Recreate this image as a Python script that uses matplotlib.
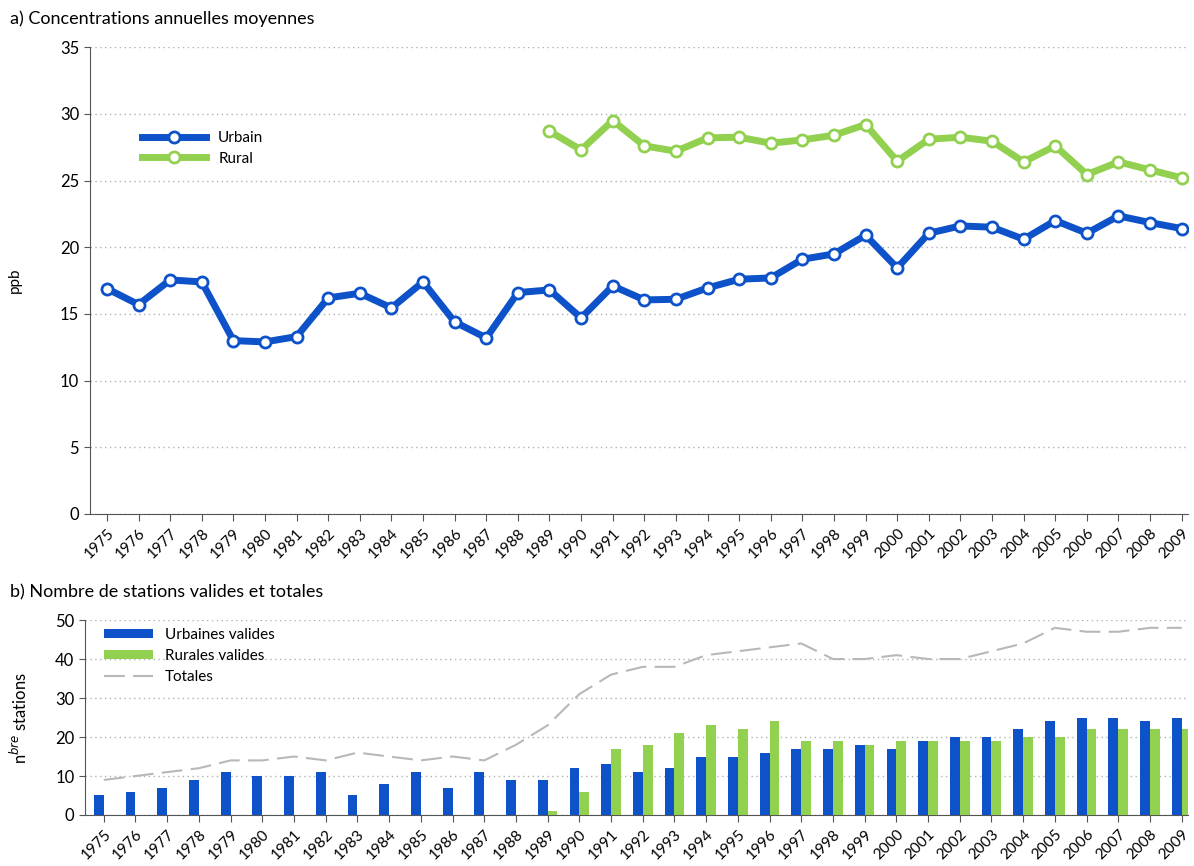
import numpy as np
import matplotlib
matplotlib.use("Agg")
import matplotlib.pyplot as plt

plt.rcParams['font.family'] = ['Lato', 'DejaVu Sans']

# années et concentrations annuelles moyennes (ppb)
annees = list(range(1975, 2010))
urbain = [16.9, 15.7, 17.55, 17.4, 13.0, 12.9, 13.3, 16.2, 16.55, 15.45, 17.4, 14.4,
          13.2, 16.6, 16.8, 14.7, 17.1, 16.05, 16.1, 16.95, 17.6, 17.7, 19.1, 19.5,
          20.9, 18.45, 21.05, 21.6, 21.5, 20.6, 22.0, 21.05, 22.35, 21.85, 21.4]
rural = [np.nan] * 14 + [28.7, 27.3, 29.5, 27.6, 27.2, 28.2, 28.25, 27.8, 28.05, 28.4,
                         29.2, 26.45, 28.1, 28.25, 27.95, 26.4, 27.6, 25.45, 26.4, 25.8, 25.2]

# nombre de stations
urb_valides = [5, 6, 7, 9, 11, 10, 10, 11, 5, 8, 11, 7, 11, 9, 9, 12, 13, 11, 12, 15,
               15, 16, 17, 17, 18, 17, 19, 20, 20, 22, 24, 25, 25, 24, 25]
rur_valides = [0] * 14 + [1, 6, 17, 18, 21, 23, 22, 24, 19, 19, 18, 19, 19, 19, 19, 20,
                          20, 22, 22, 22, 22]
totales = [9, 10, 11, 12, 14, 14, 15, 14, 16, 15, 14, 15, 14, 18, 23, 31, 36, 38, 38, 41,
           42, 43, 44, 40, 40, 41, 40, 40, 42, 44, 48, 47, 47, 48, 48]

bleu = '#0d52c8'
vert = '#92d050'
x = np.arange(len(annees))

fig = plt.figure(figsize=(11.94, 8.66), dpi=100)

# --- a) concentrations
ax1 = fig.add_axes([0.075, 0.4065, 0.92, 0.539])
ax1.plot(x, urbain, color=bleu, lw=5, marker='o', ms=8, mfc='white', mec=bleu,
         mew=2, label='Urbain', zorder=3)
ax1.plot(x, rural, color=vert, lw=5, marker='o', ms=8, mfc='white', mec=vert,
         mew=2, label='Rural', zorder=3)
ax1.set_ylim(0, 35)
ax1.set_yticks(range(0, 36, 5))
ax1.set_xlim(-0.55, 34.2)
ax1.set_ylabel('ppb', fontsize=11)
ax1.yaxis.set_label_coords(-0.062, 0.5)
ax1.legend(loc='upper left', bbox_to_anchor=(0.035, 0.85), frameon=False,
           fontsize=11, handlelength=4.2, labelspacing=0.45)
fig.text(0.008, 0.978, 'a) Concentrations annuelles moyennes', fontsize=13, va='center')

# --- b) nombre de stations
ax2 = fig.add_axes([0.071, 0.0589, 0.924, 0.2251])
w = 0.31
b1 = ax2.bar(x - w / 2, urb_valides, width=w, color=bleu, label='Urbaines valides', zorder=3)
b2 = ax2.bar(x + w / 2, rur_valides, width=w, color=vert, label='Rurales valides', zorder=3)
l3, = ax2.plot(x, totales, color='#b8b8b8', lw=1.5, dashes=(10, 4), label='Totales', zorder=2)
ax2.set_ylim(0, 50)
ax2.set_yticks(range(0, 51, 10))
ax2.set_xlim(-0.6, 34.2)
ax2.set_ylabel('n$^{bre}$ stations', fontsize=12)
ax2.yaxis.set_label_coords(-0.05, 0.5)
ax2.legend(handles=[b1, b2, l3], loc='upper left', bbox_to_anchor=(0.005, 1.03),
           frameon=False, fontsize=11, handlelength=3.2, handleheight=0.55,
           labelspacing=0.45)
fig.text(0.008, 0.316, 'b) Nombre de stations valides et totales', fontsize=13, va='center')

for ax in (ax1, ax2):
    ax.set_xticks(x)
    ax.set_xticklabels(annees, rotation=45, ha='right', rotation_mode='anchor', fontsize=11)
    ax.tick_params(axis='y', labelsize=12, length=4, color='#555555')
    ax.tick_params(axis='x', length=5, color='#555555')
    ax.grid(axis='y', linestyle=(0, (1, 2.5)), color='#b0b0b0', lw=1)
    ax.set_axisbelow(True)
    for s in ('top', 'right'):
        ax.spines[s].set_visible(False)
    for s in ('left', 'bottom'):
        ax.spines[s].set_color('#555555')

fig.savefig('out.png', dpi=100)
